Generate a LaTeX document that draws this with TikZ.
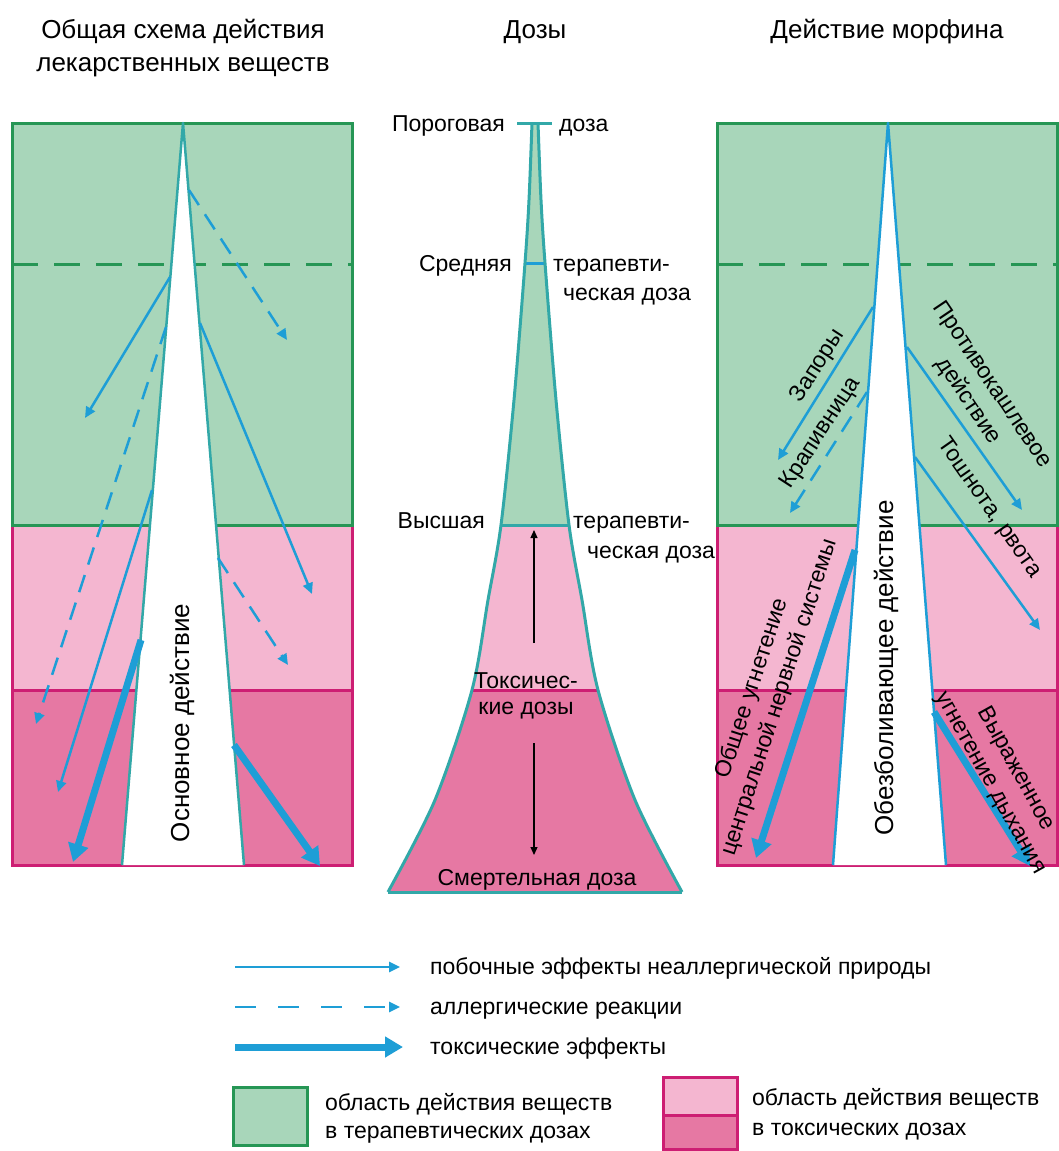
\documentclass[tikz,border=0pt]{standalone}
\usepackage{fontspec}
\setmainfont{Liberation Sans}
\usetikzlibrary{arrows.meta}
\definecolor{therapyfill}{RGB}{168,214,186}
\definecolor{therapyline}{RGB}{38,150,85}
\definecolor{toxlight}{RGB}{244,182,208}
\definecolor{toxdark}{RGB}{230,120,163}
\definecolor{toxline}{RGB}{205,30,115}
\definecolor{arrowblue}{RGB}{30,158,214}
\definecolor{edgeteal}{RGB}{50,168,168}
\tikzset{
therapy/.style={fill=therapyfill, draw=therapyline, line width=3pt},
toxmild/.style={fill=toxlight, draw=toxline, line width=3pt},
toxheavy/.style={fill=toxdark, draw=toxline, line width=3pt},
borderdash/.style={draw=therapyline, line width=3pt, dash pattern=on 26pt off 16pt},
spikeedge/.style={draw=edgeteal, line width=2.5pt, line join=round},
side/.style={draw=arrowblue, line width=2.5pt, -{Triangle[length=11pt,width=10pt]}},
allergy/.style={side, dash pattern=on 18pt off 11pt},
toxic/.style={draw=arrowblue, line width=7pt, -{Triangle[length=18pt,width=20pt]}},
doseedge/.style={draw=edgeteal, line width=3pt},
doseguide/.style={draw=black, line width=1.2pt, -{Triangle[length=8pt,width=7pt]}},
title/.style={font=\fontsize{26}{33}\selectfont, align=center, inner sep=0pt},
doselabel/.style={font=\fontsize{23}{29}\selectfont, inner sep=0pt},
legendtext/.style={font=\fontsize{23}{29}\selectfont, inner sep=0pt},
sidetext/.style={font=\fontsize{23}{29}\selectfont, inner sep=0pt},
maintext/.style={font=\fontsize{26}{32}\selectfont, inner sep=0pt},
}

\begin{document}
\begin{tikzpicture}[x=1pt,y=-1pt]
    \useasboundingbox (0,0) rectangle (1059,1151);
    \fill[white] (0,0) rectangle (1059,1151);

    \node[title] (titleA) at (183,48) {Общая схема действия\\лекарственных веществ};
    \node[title, anchor=base] (titleB) at (535,38) {Дозы};
    \node[title, anchor=base] (titleC) at (887,38) {Действие морфина};

    %left panel
    \draw[toxheavy] (12,690) rectangle (352,865);
    \draw[toxmild] (12,525) rectangle (352,690);
    \draw[therapy] (12,123) rectangle (352,525);
    \draw[borderdash] (12,264) -- (352,264);
    \fill[white] (183,123) -- (122,865) -- (244,865) -- cycle;
    \draw[spikeedge] (122,865) -- (183,123) -- (244,865);
    \node[maintext, rotate=90] (basic) at (182,723) {Основное действие};

    \coordinate (a1s) at (189,190); \coordinate (a1e) at (287,340);
    \coordinate (a2s) at (170,277); \coordinate (a2e) at (85,418);
    \coordinate (a3s) at (166,327); \coordinate (a3e) at (36,724);
    \coordinate (a4s) at (200,323); \coordinate (a4e) at (312,594);
    \coordinate (a5s) at (152,490); \coordinate (a5e) at (58,792);
    \coordinate (a6s) at (218,558); \coordinate (a6e) at (288,665);
    \coordinate (a7s) at (141,640); \coordinate (a7e) at (73,862);
    \coordinate (a8s) at (234,745); \coordinate (a8e) at (320,866);
    \draw[allergy] (a1s) -- (a1e);
    \draw[side] (a2s) -- (a2e);
    \draw[allergy] (a3s) -- (a3e);
    \draw[side] (a4s) -- (a4e);
    \draw[side] (a5s) -- (a5e);
    \draw[allergy] (a6s) -- (a6e);
    \draw[toxic] (a7s) -- (a7e);
    \draw[toxic] (a8s) -- (a8e);

    %middle: doses
    \begin{scope}
        \clip plot[smooth] coordinates {(532,123) (529,200) (525,263) (514,400) (501,525) (488,600) (472,690) (435,800) (388,892)}
            -- plot[smooth] coordinates {(682,892) (635,800) (598,690) (582,600) (569,525) (556,400) (545,263) (541,200) (538,123)} -- cycle;
        \fill[therapyfill] (380,115) rectangle (690,525);
        \fill[toxlight] (380,525) rectangle (690,690);
        \fill[toxdark] (380,690) rectangle (690,895);
        \draw[doseedge] (380,525) -- (690,525);
        \draw[toxline, line width=3pt] (380,690) -- (690,690);
        \draw[arrowblue, line width=3pt] (380,263) -- (690,263);
    \end{scope}
    \draw[doseedge] plot[smooth] coordinates {(532,123) (529,200) (525,263) (514,400) (501,525) (488,600) (472,690) (435,800) (388,892)};
    \draw[doseedge] plot[smooth] coordinates {(538,123) (541,200) (545,263) (556,400) (569,525) (582,600) (598,690) (635,800) (682,892)};
    \draw[doseedge] (517,123) -- (552,123);
    \draw[doseedge] (388,892) -- (682,892);

    \coordinate (upS) at (534,643); \coordinate (upE) at (534,530);
    \coordinate (downS) at (534,743); \coordinate (downE) at (534,855);
    \draw[doseguide] (upS) -- (upE);
    \draw[doseguide] (downS) -- (downE);

    \node[doselabel, anchor=base east] (porog) at (505,131) {Пороговая};
    \node[doselabel, anchor=base west] (porogB) at (559,131) {доза};
    \node[doselabel, anchor=base east] (sred) at (512,271) {Средняя};
    \node[doselabel, anchor=base west] (sredB) at (553,271) {терапевти-};
    \node[doselabel, anchor=base west] (sredC) at (563,300) {ческая доза};
    \node[doselabel, anchor=base east] (vys) at (485,528) {Высшая};
    \node[doselabel, anchor=base west] (vysB) at (573,528) {терапевти-};
    \node[doselabel, anchor=base west] (vysC) at (587,558) {ческая доза};
    \node[doselabel, anchor=base] (toxA) at (526,688) {Токсичес-};
    \node[doselabel, anchor=base] (toxB) at (526,714) {кие дозы};
    \node[doselabel, anchor=base] (death) at (537,885) {Смертельная доза};

    %right panel: morphine
    \draw[toxheavy] (717,690) rectangle (1057,865);
    \draw[toxmild] (717,525) rectangle (1057,690);
    \draw[therapy] (717,123) rectangle (1057,525);
    \draw[borderdash] (717,264) -- (1057,264);
    \fill[white] (888,123) -- (833,865) -- (946,865) -- cycle;
    \draw[spikeedge, draw=arrowblue] (833,865) -- (888,123) -- (946,865);
    \node[maintext, rotate=90] (analg) at (886,668) {Обезболивающее действие};

    \coordinate (m1s) at (873,307); \coordinate (m1e) at (778,460);
    \coordinate (m2s) at (867,392); \coordinate (m2e) at (790,513);
    \coordinate (m3s) at (907,347); \coordinate (m3e) at (1022,510);
    \coordinate (m4s) at (915,457); \coordinate (m4e) at (1040,630);
    \coordinate (m5s) at (855,550); \coordinate (m5e) at (756,858);
    \coordinate (m6s) at (934,712); \coordinate (m6e) at (1030,866);
    \draw[side] (m1s) -- (m1e);
    \draw[allergy] (m2s) -- (m2e);
    \draw[side] (m3s) -- (m3e);
    \draw[side] (m4s) -- (m4e);
    \draw[toxic] (m5s) -- (m5e);
    \draw[toxic] (m6s) -- (m6e);

    \node[sidetext, rotate=57] (zapor) at (818,366) {Запоры};
    \node[sidetext, rotate=57] (krap) at (821,433) {Крапивница};
    \node[sidetext, rotate=-56, align=center] (kash) at (980,393) {Противокашлевое\\действие};
    \node[sidetext, rotate=-55] (toshn) at (989,508) {Тошнота, рвота};
    \node[sidetext, rotate=72, align=center] (cns) at (766,693) {Общее угнетение\\центральной нервной системы};
    \node[sidetext, rotate=-61, align=center] (resp) at (1003,776) {Выраженное\\угнетение дыхания};

    %legend
    \coordinate (k1s) at (235,967); \coordinate (k1e) at (400,967);
    \coordinate (k2s) at (235,1007); \coordinate (k2e) at (400,1007);
    \coordinate (k3s) at (235,1047); \coordinate (k3e) at (403,1047);
    \draw[side] (k1s) -- (k1e);
    \draw[allergy, dash pattern=on 21pt off 22pt] (k2s) -- (k2e);
    \draw[toxic] (k3s) -- (k3e);
    \node[legendtext, anchor=base west] (k1t) at (430,974) {побочные эффекты неаллергической природы};
    \node[legendtext, anchor=base west] (k2t) at (430,1014) {аллергические реакции};
    \node[legendtext, anchor=base west] (k3t) at (430,1054) {токсические эффекты};

    \draw[therapy] (233,1087) rectangle (307,1145);
    \node[legendtext, anchor=base west] (g1) at (325,1110) {область действия веществ};
    \node[legendtext, anchor=base west] (g2) at (325,1138) {в терапевтических дозах};
    \draw[toxheavy] (663,1115) rectangle (737,1149);
    \draw[toxmild] (663,1077) rectangle (737,1115);
    \node[legendtext, anchor=base west] (p1) at (752,1105) {область действия веществ};
    \node[legendtext, anchor=base west] (p2) at (752,1135) {в токсических дозах};
\end{tikzpicture}
\end{document}
